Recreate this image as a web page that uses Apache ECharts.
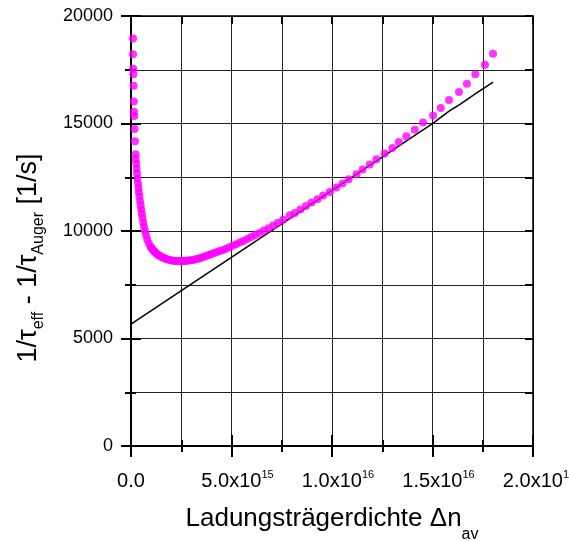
<!DOCTYPE html>
<html>
<head>
<meta charset="utf-8">
<script src="https://cdn.jsdelivr.net/npm/echarts@6/dist/echarts.min.js"></script>
<style>
  html, body { margin: 0; padding: 0; background: #fff; }
  #chart { width: 569px; height: 541px; }
</style>
</head>
<body>
<div id="chart"></div>
<script>
// Carrier density (units of 1e15 cm^-3) and measured rate 1/tau_eff - 1/tau_Auger (1/s)
const densityE15 = [
  0.10, 0.10, 0.11, 0.12, 0.13, 0.14, 0.15, 0.16, 0.18, 0.20,
  0.23, 0.24, 0.26, 0.28, 0.30, 0.32, 0.35, 0.37, 0.39, 0.42,
  0.45, 0.48, 0.51, 0.54, 0.57, 0.61, 0.65, 0.70, 0.75, 0.81,
  0.89, 0.98, 1.03, 1.09, 1.15, 1.21, 1.28, 1.35, 1.42, 1.50,
  1.58, 1.66, 1.75, 1.84, 1.93, 2.03, 2.12, 2.22, 2.32, 2.42,
  2.50, 2.59, 2.68, 2.77, 2.86, 2.96, 3.06, 3.16, 3.27, 3.38,
  3.50, 3.62, 3.74, 3.87, 4.00, 4.14, 4.28, 4.42, 4.57, 4.73,
  4.89, 5.06, 5.23, 5.41, 5.59, 5.78, 5.98, 6.18, 6.39, 6.61,
  6.84, 7.07, 7.31, 7.57, 7.90, 8.15, 8.43, 8.70, 8.98, 9.28,
  9.56, 9.89, 10.22, 10.52, 10.83, 11.22, 11.52, 11.88, 12.21, 12.62,
  13.00, 13.32, 13.70, 14.12, 14.53, 15.03, 15.41, 15.82, 16.32, 16.71,
  17.13, 17.61, 18.01
];
const rateMeasured = [
  18950, 18220, 17550, 17290, 16760, 16020, 15550, 15350, 14750, 14170,
  13570, 13350, 13140, 12900, 12670, 12430, 12210, 12000, 11800, 11600,
  11400, 11200, 11000, 10800, 10600, 10400, 10200, 10000, 9800, 9600,
  9420, 9260, 9195, 9120, 9058, 9000, 8943, 8890, 8845, 8800,
  8763, 8730, 8698, 8670, 8648, 8630, 8618, 8610, 8603, 8600,
  8601, 8604, 8608, 8614, 8624, 8638, 8655, 8673, 8697, 8726,
  8760, 8797, 8838, 8880, 8925, 8975, 9025, 9072, 9122, 9180,
  9243, 9312, 9385, 9462, 9540, 9625, 9718, 9813, 9912, 10018,
  10130, 10255, 10380, 10520, 10734, 10841, 10997, 11168, 11324, 11478,
  11648, 11817, 12020, 12206, 12407, 12639, 12857, 13090, 13337, 13600,
  13861, 14140, 14405, 14715, 15050, 15375, 15720, 16092, 16464, 16854,
  17286, 17737, 18248
];

// Linear fit through the high-injection region
const fitDensityE15 = [0, 15.00, 15.86, 16.35, 17.18, 18.02];
const fitRate = [5670, 14990, 15600, 15880, 16410, 16920];

// Tick labels of the density axis: mantissa and power of ten
const xTickValues = [0, 5, 10, 15, 20];
const xTickMantissa = ['0.0', '5.0x10', '1.0x10', '1.5x10', '2.0x10'];
const xTickExponent = ['', '15', '16', '16', '16'];

const FONT = 'Liberation Sans, Arial, sans-serif';

const measuredPoints = densityE15.map((x, i) => [x, rateMeasured[i]]);
const fitPoints = fitDensityE15.map((x, i) => [x, fitRate[i]]);

function xLabel(value) {
  const i = xTickValues.findIndex(v => Math.abs(v - value) < 1e-9);
  if (i < 0) return '';
  if (!xTickExponent[i]) return '{b|' + xTickMantissa[i] + '}';
  return '{p| }{b|' + xTickMantissa[i] + '}{s|' + xTickExponent[i] + '}';
}

const lineBlack = { color: '#000', width: 2 };
const gridLine = { color: '#222', width: 1 };

const chart = echarts.init(document.getElementById('chart'), null, { renderer: 'canvas' });

chart.setOption({
  animation: false,
  backgroundColor: '#fff',
  grid: { left: 131, right: 36, top: 16, bottom: 95, containLabel: false, outerBoundsMode: 'none' },
  xAxis: [
    {
      type: 'value', position: 'bottom', min: 0, max: 20, interval: 5,
      axisLine: { show: true, onZero: false, lineStyle: lineBlack },
      axisTick: { show: true, length: 11, lineStyle: lineBlack },
      minorTick: { show: true, splitNumber: 2, length: 6, lineStyle: lineBlack },
      splitLine: { show: true, lineStyle: gridLine },
      minorSplitLine: { show: true, lineStyle: gridLine },
      axisLabel: {
        show: true, margin: 23, formatter: xLabel,
        showMinLabel: true, showMaxLabel: true, hideOverlap: false,
        rich: {
          b: { fontSize: 20, fontFamily: FONT, color: '#000', lineHeight: 22, verticalAlign: 'bottom' },
          s: { fontSize: 11, fontFamily: FONT, color: '#000', verticalAlign: 'top' },
          p: { fontSize: 11, fontFamily: FONT, width: 12 }
        }
      }
    },
    {
      type: 'value', position: 'bottom', min: 0, max: 20, interval: 5,
      axisLine: { show: false },
      axisTick: { show: true, inside: true, length: 11, lineStyle: lineBlack },
      minorTick: { show: true, splitNumber: 2, length: 6, lineStyle: lineBlack },
      splitLine: { show: false }, axisLabel: { show: false }
    },
    {
      type: 'value', position: 'top', min: 0, max: 20, interval: 5,
      axisLine: { show: true, onZero: false, lineStyle: { color: '#000', width: 1.5 } },
      axisTick: { show: true, inside: true, length: 8, lineStyle: lineBlack },
      minorTick: { show: true, splitNumber: 2, length: 8, lineStyle: lineBlack },
      splitLine: { show: false }, axisLabel: { show: false }
    }
  ],
  yAxis: [
    {
      type: 'value', position: 'left', min: 0, max: 20000, interval: 5000,
      axisLine: { show: true, onZero: false, lineStyle: lineBlack },
      axisTick: { show: true, length: 10, lineStyle: lineBlack },
      minorTick: { show: true, splitNumber: 2, length: 6, lineStyle: lineBlack },
      splitLine: { show: true, lineStyle: gridLine },
      minorSplitLine: { show: true, lineStyle: gridLine },
      axisLabel: {
        show: true, margin: 18, fontSize: 18, fontFamily: FONT, color: '#000',
        formatter: v => String(v)
      }
    },
    {
      type: 'value', position: 'left', min: 0, max: 20000, interval: 5000,
      axisLine: { show: false },
      axisTick: { show: true, inside: true, length: 10, lineStyle: lineBlack },
      minorTick: { show: true, splitNumber: 2, length: 5, lineStyle: lineBlack },
      splitLine: { show: false }, axisLabel: { show: false }
    },
    {
      type: 'value', position: 'right', min: 0, max: 20000, interval: 5000,
      axisLine: { show: true, onZero: false, lineStyle: { color: '#000', width: 1.5 } },
      axisTick: { show: true, inside: true, length: 8, lineStyle: lineBlack },
      minorTick: { show: true, splitNumber: 2, length: 8, lineStyle: lineBlack },
      splitLine: { show: false }, axisLabel: { show: false }
    }
  ],
  series: [
    {
      name: 'Fit', type: 'line', xAxisIndex: 0, yAxisIndex: 0,
      data: fitPoints, showSymbol: false, symbol: 'none',
      lineStyle: { color: '#000', width: 1.5 }, z: 3
    },
    {
      name: 'Messung', type: 'scatter', xAxisIndex: 0, yAxisIndex: 0,
      data: measuredPoints, symbol: 'circle', symbolSize: 8,
      itemStyle: { color: '#ff00ff' }, z: 4
    }
  ],
  graphic: [
    {
      type: 'text', x: 332, y: 524,
      style: {
        text: '{m|Ladungsträgerdichte Δn}{s|av}',
        align: 'center', verticalAlign: 'middle',
        rich: {
          m: { fontSize: 26, fontFamily: FONT, color: '#000', lineHeight: 30, verticalAlign: 'top' },
          s: { fontSize: 16, fontFamily: FONT, color: '#000', lineHeight: 37, verticalAlign: 'bottom' }
        }
      }
    },
    {
      type: 'text', x: 31, y: 258, rotation: Math.PI / 2,
      style: {
        text: '{m|1/τ}{s|eff}{m| - 1/τ}{s|Auger}{m| [1/s]}',
        align: 'center', verticalAlign: 'middle',
        rich: {
          m: { fontSize: 27, fontFamily: FONT, color: '#000', lineHeight: 30, verticalAlign: 'top' },
          s: { fontSize: 16, fontFamily: FONT, color: '#000', lineHeight: 32, verticalAlign: 'bottom' }
        }
      }
    }
  ]
});
</script>
</body>
</html>
